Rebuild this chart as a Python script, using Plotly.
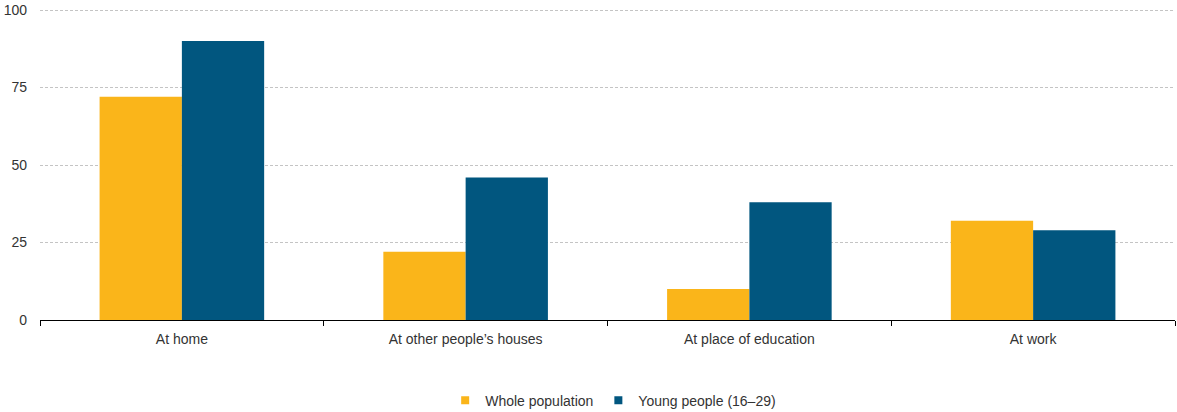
import plotly.graph_objects as go

categories = ["At home", "At other people\u2019s houses", "At place of education", "At work"]
whole_population = [72, 22, 10, 32]
young_people = [90, 46, 38, 29]
y_ticks = [0, 25, 50, 75, 100]

series_names = ["Whole population", "Young people (16\u201329)"]
series_colors = ["#FAB51A", "#01567F"]
TEXT = "#333333"
FONT = "Liberation Sans, Arial, sans-serif"

fig = go.Figure()
for name, values, color in zip(series_names, [whole_population, young_people], series_colors):
    fig.add_trace(go.Bar(
        x=categories, y=values, name=name, showlegend=False,
        marker=dict(color=color, line=dict(width=0)),
    ))

# compact square legend keys
for name, color in zip(series_names, series_colors):
    fig.add_trace(go.Scatter(
        x=[None], y=[None], mode="markers", name=name,
        marker=dict(symbol="square", size=8, color=color),
    ))

fig.update_layout(
    width=1177, height=412,
    margin=dict(l=40, r=2, t=7, b=92, autoexpand=False),
    barmode="group", bargap=0.42, bargroupgap=0,
    plot_bgcolor="white", paper_bgcolor="white",
    font=dict(family=FONT, size=14, color=TEXT),
    showlegend=True,
    legend=dict(orientation="h", x=0.505, xanchor="center", y=-0.258, yanchor="middle",
                font=dict(size=14, color=TEXT), itemwidth=30, traceorder="normal",
                tracegroupgap=0, itemclick=False),
    xaxis=dict(
        showline=True, linecolor="#000000", linewidth=1,
        ticks="outside", tickson="boundaries", ticklen=5, tickcolor="#000000",
        showgrid=False, tickfont=dict(size=14, color=TEXT), ticklabelstandoff=6,
    ),
    yaxis=dict(
        range=[0, 101], tickvals=y_ticks, showline=False, zeroline=False,
        showgrid=True, gridcolor="#C4C4C4", griddash="3px,2px", gridwidth=1,
        ticks="", ticklabelstandoff=12, tickfont=dict(size=14, color=TEXT),
    ),
)

fig.write_html("out.html")
